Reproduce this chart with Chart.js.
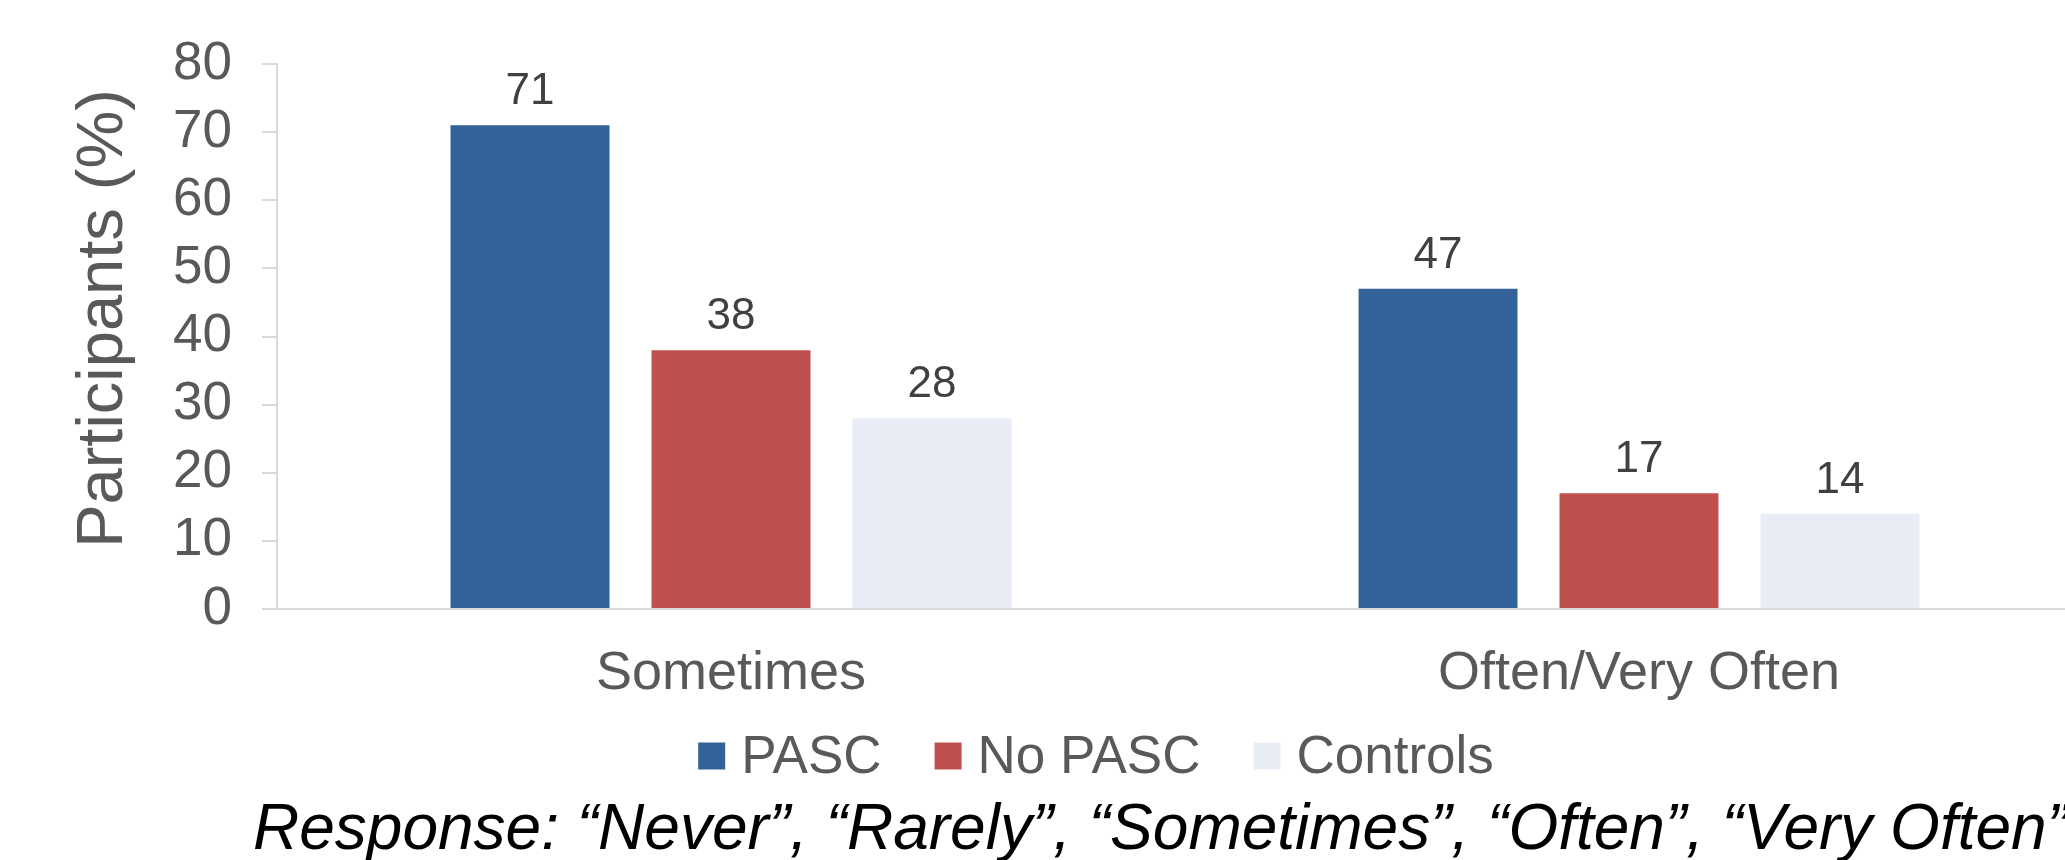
<!DOCTYPE html>
<html>
<head>
<meta charset="utf-8">
<script src="https://cdn.jsdelivr.net/npm/chart.js@4.4.1/dist/chart.umd.min.js"></script>
<style>
  html, body { margin: 0; padding: 0; background: #ffffff; overflow: hidden; }
  #wrap { position: relative; width: 2065px; height: 860px; overflow: hidden; }
  #c { display: block; }
</style>
</head>
<body>
<div id="wrap"><canvas id="c" width="2100" height="860"></canvas></div>
<script>
const categories = ['Sometimes', 'Often/Very Often'];
const seriesNames = ['PASC', 'No PASC', 'Controls'];
const pascValues = [71, 47];
const noPascValues = [38, 17];
const controlValues = [28, 14];
const yTicks = [0, 10, 20, 30, 40, 50, 60, 70, 80];
const yTitle = '\u00A0\u00A0Participants (%)';
const footnote = 'Response: \u201CNever\u201D, \u201CRarely\u201D, \u201CSometimes\u201D, \u201COften\u201D, \u201CVery Often\u201D';

const FONT = "'Liberation Sans', Arial, Helvetica, sans-serif";
const colors = ['#33619A', '#C0504D', '#E8EDF5'];

const valueLabels = {
  id: 'valueLabels',
  afterDatasetsDraw(chart) {
    const ctx = chart.ctx;
    ctx.save();
    ctx.font = '44px ' + FONT;
    ctx.fillStyle = '#404040';
    ctx.textAlign = 'center';
    ctx.textBaseline = 'alphabetic';
    chart.data.datasets.forEach((ds, i) => {
      const meta = chart.getDatasetMeta(i);
      meta.data.forEach((bar, j) => {
        ctx.fillText(String(ds.data[j]), bar.x, bar.y - 21);
      });
    });
    ctx.restore();
  }
};

const bottomLegend = {
  id: 'bottomLegend',
  afterDraw(chart) {
    const ctx = chart.ctx;
    ctx.save();
    ctx.font = '53px ' + FONT;
    ctx.textBaseline = 'middle';
    ctx.textAlign = 'left';
    const box = 27, gapText = 16, gapItem = 53;
    const items = chart.data.datasets.map(ds => ({ label: ds.label, color: ds.backgroundColor, w: ctx.measureText(ds.label).width }));
    let total = 0;
    items.forEach((it, i) => { total += box + gapText + it.w + (i < items.length - 1 ? gapItem : 0); });
    let x = 1096 - total / 2;
    const cy = 756;
    items.forEach(it => {
      ctx.fillStyle = it.color;
      ctx.fillRect(x, cy - box / 2, box, box);
      x += box + gapText;
      ctx.fillStyle = '#595959';
      ctx.fillText(it.label, x, cy + 2);
      x += it.w + gapItem;
    });
    ctx.font = 'italic 64px ' + FONT;
    ctx.fillStyle = '#000000';
    ctx.textBaseline = 'alphabetic';
    ctx.fillText(footnote, 253, 849);
    ctx.restore();
  }
};

new Chart(document.getElementById('c'), {
  type: 'bar',
  data: {
    labels: categories,
    datasets: [
      { label: seriesNames[0], data: pascValues, backgroundColor: colors[0] },
      { label: seriesNames[1], data: noPascValues, backgroundColor: colors[1] },
      { label: seriesNames[2], data: controlValues, backgroundColor: colors[2] }
    ]
  },
  options: {
    responsive: false,
    animation: false,
    devicePixelRatio: 1,
    categoryPercentage: 0.664,
    barPercentage: 0.791,
    layout: { padding: { left: 0, right: 7, top: 64, bottom: 160 } },
    plugins: { legend: { display: false }, tooltip: { enabled: false } },
    scales: {
      x: {
        grid: { display: false, drawTicks: false },
        border: { display: true, color: '#D9D9D9', width: 2 },
        ticks: { color: '#595959', font: { family: FONT, size: 54 }, padding: 33, maxRotation: 0, autoSkip: false },
        afterFit(s) { s.height = 91; }
      },
      y: {
        min: 0, max: 80,
        afterBuildTicks(s) { s.ticks = yTicks.map(v => ({ value: v })); },
        grid: { display: true, drawOnChartArea: false, drawTicks: true, tickLength: 15, color: '#D9D9D9', lineWidth: 2 },
        border: { display: true, color: '#D9D9D9', width: 2 },
        ticks: { color: '#595959', font: { family: FONT, size: 53 }, padding: 30 },
        title: { display: true, text: yTitle, color: '#595959', font: { family: FONT, size: 65 }, padding: { top: 65, bottom: 0 } },
        afterFit(s) { s.width = 277; }
      }
    }
  },
  plugins: [valueLabels, bottomLegend]
});
</script>
</body>
</html>
